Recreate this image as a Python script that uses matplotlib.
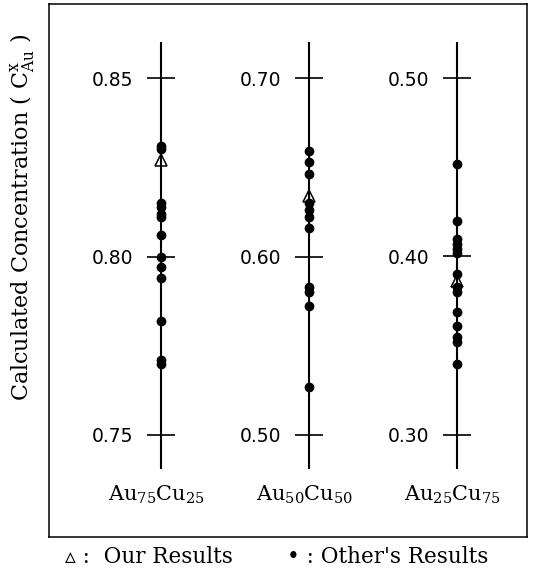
import numpy as np
import matplotlib
matplotlib.use('Agg')
import matplotlib.pyplot as plt

plt.rcParams['mathtext.fontset'] = 'dejavuserif'

# alloys and their tick values
alloys = ['Au$_{75}$Cu$_{25}$', 'Au$_{50}$Cu$_{50}$', 'Au$_{25}$Cu$_{75}$']
ticks = [[0.75, 0.80, 0.85],
         [0.50, 0.60, 0.70],
         [0.30, 0.40, 0.50]]
tick_labels = [['0.75', '0.80', '0.85'],
               ['0.50', '0.60', '0.70'],
               ['0.30', '0.40', '0.50']]

# calculated Au concentration
ours = [0.827, 0.634, 0.386]
others_75 = [0.831, 0.830, 0.815, 0.814, 0.812, 0.811, 0.806, 0.800, 0.797, 0.794,
             0.782, 0.771, 0.770]
others_50 = [0.659, 0.653, 0.646, 0.630, 0.626, 0.622, 0.616, 0.583, 0.580, 0.572,
             0.527]
others_25 = [0.452, 0.420, 0.410, 0.407, 0.404, 0.402, 0.390, 0.383, 0.380, 0.369,
             0.361, 0.355, 0.352, 0.340]
others = [others_75, others_50, others_25]

W, H = 534, 571
fig = plt.figure(figsize=(W / 100, H / 100), dpi=100)

# outer frame
frame = fig.add_axes([49 / W, (H - 537) / H, (527 - 49) / W, (537 - 4) / H])
frame.set_xticks([])
frame.set_yticks([])
for s in frame.spines.values():
    s.set_linewidth(1.1)

line_x = [161, 309, 457]
top_px, bot_px = 43, 468
t_top, t_bot = 78, 435
step_px = (t_bot - t_top) / 2

for i in range(3):
    ax = fig.add_axes([line_x[i] / W, (H - bot_px) / H, 0.06, (bot_px - top_px) / H])
    ax.patch.set_visible(False)
    for name in ['top', 'right', 'bottom']:
        ax.spines[name].set_visible(False)
    ax.spines['left'].set_linewidth(1.5)
    step = ticks[i][1] - ticks[i][0]
    lo = ticks[i][0] - (bot_px - t_bot) / step_px * step
    hi = ticks[i][2] + (t_top - top_px) / step_px * step
    ax.set_ylim(lo, hi)
    ax.set_xlim(0, 1)
    ax.set_xticks([])
    ax.set_yticks(ticks[i])
    ax.set_yticklabels(tick_labels[i], fontsize=13.5)
    ax.tick_params(axis='y', direction='inout', length=20, width=1.2, pad=10)

    ax.plot(np.zeros(len(others[i])), others[i], 'o', color='black', markersize=6,
            clip_on=False, zorder=3)
    ax.plot([0], [ours[i]], '^', markerfacecolor='none', markeredgecolor='black',
            markeredgewidth=1.1, markersize=8, clip_on=False, zorder=4)

    fig.text((line_x[i] - 4) / W, 1 - 495 / H, alloys[i], ha='center', va='center',
             fontsize=15, family='DejaVu Serif')

fig.text(22 / W, 1 - 217 / H, 'Calculated Concentration ( C$^{\\mathrm{x}}_{\\mathrm{Au}}$ )',
         rotation=90, ha='center', va='center', fontsize=16, family='DejaVu Serif')

fig.text(65 / W, 1 - 557 / H, '\u25b5 :  Our Results', ha='left', va='center',
         fontsize=15.5, family=['DejaVu Serif', 'DejaVu Sans'])
fig.text(287 / W, 1 - 557 / H, '\u2022 : Other\'s Results', ha='left', va='center',
         fontsize=15.5, family=['DejaVu Serif', 'DejaVu Sans'])

fig.savefig('out.png', dpi=100)
